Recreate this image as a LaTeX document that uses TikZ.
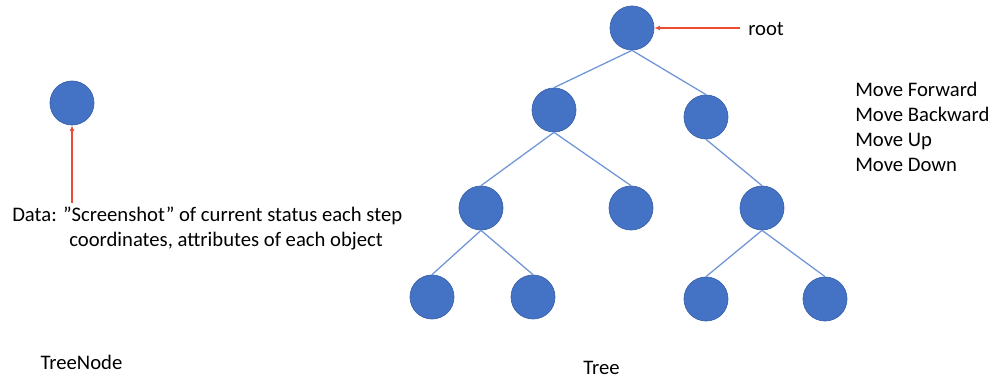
\documentclass[tikz,border=0pt]{standalone}
\usepackage{fontspec}
\setmainfont{Carlito}
\usepackage{tikz}
\usetikzlibrary{arrows.meta}
\definecolor{nodeblue}{HTML}{4472C4}
\definecolor{nodeedge}{HTML}{3A62AC}
\definecolor{edgeblue}{HTML}{6F95D6}
\definecolor{pointred}{HTML}{EE4B33}

\begin{document}
\begin{tikzpicture}[x=0.025cm, y=-0.025cm,
	main/.style = {draw=nodeedge, fill=nodeblue, circle, line width=0.5pt, minimum size=1.1cm, inner sep=0},
	label/.style = {inner sep=0, font=\fontsize{14.7}{17.8}\selectfont},
	pointer/.style = {draw=pointred, line width=0.8pt, -{Latex[length=4pt,width=3.5pt]}},
	branch/.style = {draw=edgeblue, line width=0.9pt}]
	\useasboundingbox (0,0) rectangle (1004,379);
	% single node
	\node[main] (tn) at (72, 103){};
	\node[label, anchor=base west] (data1) at (12, 222){Data: ”Screenshot” of current status each step};
	\node[label, anchor=base west] (data2) at (69, 247){coordinates, attributes of each object};
	\coordinate (tnfrom) at (72, 203);
	\draw[pointer] (tnfrom) -- (tn.south);
	\node[label, anchor=base] (tnname) at (81.5, 369){TreeNode};
	% tree
	\node[main] (R) at (632, 28){};
	\node[main] (A) at (554, 110){};
	\node[main] (B) at (706, 117){};
	\node[main] (C) at (481, 208){};
	\node[main] (D) at (631, 208){};
	\node[main] (E) at (762, 208){};
	\node[main] (F) at (432, 297){};
	\node[main] (G) at (533, 297){};
	\node[main] (H) at (706, 299){};
	\node[main] (I) at (825, 299){};
	\draw[branch] (R.south) -- (A.north);
	\draw[branch] (R.south) -- (B.north);
	\draw[branch] (A.south) -- (C.north);
	\draw[branch] (A.south) -- (D.north);
	\draw[branch] (B.south) -- (E.north);
	\draw[branch] (C.south) -- (F.north);
	\draw[branch] (C.south) -- (G.north);
	\draw[branch] (E.south) -- (H.north);
	\draw[branch] (E.south) -- (I.north);
	\node[label, anchor=base west] (rootname) at (748, 36){root};
	\coordinate (rootfrom) at (740, 28);
	\draw[pointer] (rootfrom) -- (R.east);
	% moves
	\node[label, anchor=base west] (mv1) at (855, 97){Move Forward};
	\node[label, anchor=base west] (mv2) at (855, 122){Move Backward};
	\node[label, anchor=base west] (mv3) at (855, 147){Move Up};
	\node[label, anchor=base west] (mv4) at (855, 172){Move Down};
	\node[label, anchor=base] (treename) at (601.5, 374){Tree};
\end{tikzpicture}
\end{document}
